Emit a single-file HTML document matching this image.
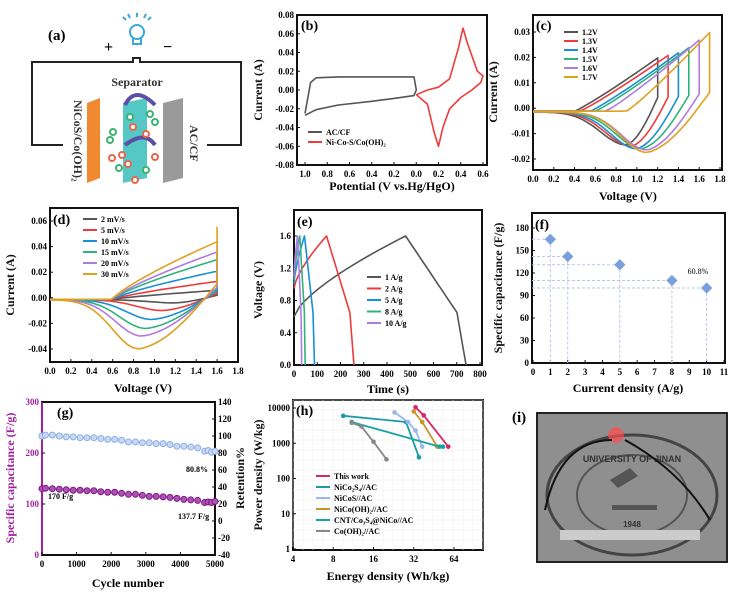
<!DOCTYPE html>
<html><head><meta charset="utf-8"><style>
html,body{margin:0;padding:0;background:#fff;}
svg{display:block;font-family:"Liberation Serif",serif;font-weight:bold;}
</style></head><body>
<svg id="fig" width="739" height="595" viewBox="0 0 739 595" xmlns="http://www.w3.org/2000/svg">
<g id="pa">
<text x="48" y="40" font-size="15">(a)</text>
<text x="104" y="52" font-size="16">+</text>
<text x="163" y="52" font-size="16">−</text>
<g stroke="#3aa9d8" fill="none" stroke-width="2">
<circle cx="137" cy="32" r="7"/><path d="M133 38 v6 h8 v-6"/><path d="M126 20l-3-3M137 17v-4M148 20l3-3M130 18l-2-4M144 18l2-4"/>
</g>
<path d="M63 145 H32 V62 H133 V58 H140 V62 H241 V145 H207" fill="none" stroke="#222" stroke-width="2"/>
<text x="137" y="86" font-size="12" text-anchor="middle" fill="#333">Separator</text>
<polygon points="87,103 100,98 100,178 87,183" fill="#f0892f"/>
<polygon points="123,103 147,98 147,178 123,183" fill="#55c7c4"/>
<polygon points="163,103 183,98 183,178 163,183" fill="#9a9a9a"/>
<path d="M125 105 Q135 85 155 105" stroke="#5b4fa8" stroke-width="4" fill="none"/>
<path d="M155 145 Q145 130 125 145" stroke="#5b4fa8" stroke-width="4" fill="none"/>
<g stroke-width="2" fill="#fff">
<circle cx="113" cy="132" r="3" stroke="#3cb371"/><circle cx="110" cy="140" r="3" stroke="#3cb371"/><circle cx="130" cy="117" r="3" stroke="#3cb371"/><circle cx="150" cy="114" r="3" stroke="#3cb371"/><circle cx="155" cy="122" r="3" stroke="#3cb371"/><circle cx="119" cy="168" r="3" stroke="#3cb371"/><circle cx="146" cy="170" r="3" stroke="#3cb371"/><circle cx="122" cy="155" r="3" stroke="#e8664a"/><circle cx="133" cy="127" r="3" stroke="#e8664a"/><circle cx="146" cy="134" r="3" stroke="#e8664a"/><circle cx="128" cy="164" r="3" stroke="#e8664a"/><circle cx="155" cy="157" r="3" stroke="#e8664a"/><circle cx="135" cy="180" r="3" stroke="#e8664a"/><circle cx="112" cy="158" r="3" stroke="#e8664a"/>
</g>
<text transform="translate(74,100) rotate(90)" font-size="12" fill="#333">NiCoS/Co(OH)₂</text>
<text transform="translate(190,125) rotate(90)" font-size="12" fill="#333">AC/CF</text>
</g>
<g id="pi">
<text x="512" y="422" font-size="15">(i)</text>
<rect x="537" y="413" width="190" height="149" fill="#8f8f8f" stroke="#222" stroke-width="2"/>
<ellipse cx="632" cy="495" rx="85" ry="60" fill="none" stroke="#444" stroke-width="3"/>
<ellipse cx="632" cy="495" rx="55" ry="40" fill="none" stroke="#555" stroke-width="2"/>
<text x="632" y="527" font-size="8" text-anchor="middle" fill="#333" font-family="Liberation Sans">1948</text>
<text x="632" y="462" font-size="9" text-anchor="middle" fill="#333" font-family="Liberation Sans">UNIVERSITY OF JINAN</text>
<path d="M610 480 l20 -12 l8 8 l-20 12z M612 505 h45 v5 h-45z" fill="#555"/>
<circle cx="616" cy="435" r="8" fill="#ff4c4c" opacity="0.7"/>
<path d="M545 510 Q560 440 612 440 M625 440 Q680 470 710 520" stroke="#111" stroke-width="2" fill="none"/>
<rect x="560" y="530" width="140" height="10" fill="#ccc"/>
</g>
<g id="charts"></g>
</svg>
<script>
// ---------- data ----------
const bAcX=[1.0,0.95,0.9,0.7,0.4,0.2,0.02,0.0,0.02,0.2,0.4,0.7,0.9,1.0];
const bAcY=[-0.025,0.008,0.013,0.014,0.014,0.014,0.014,0.0,-0.006,-0.009,-0.012,-0.016,-0.021,-0.027];
const bNiX=[0.0,0.1,0.2,0.3,0.38,0.42,0.46,0.55,0.6,0.58,0.5,0.4,0.3,0.24,0.2,0.16,0.1,0.0];
const bNiY=[-0.005,0.0,0.003,0.012,0.045,0.066,0.05,0.02,0.015,0.008,0.0,-0.008,-0.02,-0.04,-0.06,-0.045,-0.015,-0.005];
const bTickLabels=["1.0","0.8","0.6","0.4","0.2","0.0","0.2","0.4","0.6"];
const cLabels=["1.2V","1.3V","1.4V","1.5V","1.6V","1.7V"];
const cVmax=[1.2,1.3,1.4,1.5,1.6,1.7];
const cImax=[0.021,0.022,0.023,0.025,0.028,0.031];
const cImin=[-0.0145,-0.015,-0.016,-0.016,-0.0165,-0.0175];
const cVmin=[0.9,0.95,1.0,1.05,1.1,1.1];
const cOnset=[0.4,0.45,0.55,0.6,0.7,0.9];
const dLabels=["2 mV/s","5 mV/s","10 mV/s","15 mV/s","20 mV/s","30 mV/s"];
const dImax=[0.01,0.017,0.026,0.034,0.041,0.055];
const dPlat=[0.007,0.014,0.022,0.031,0.037,0.045];
const dImin=[-0.004,-0.01,-0.017,-0.024,-0.03,-0.04];
const dVmin=[1.2,1.08,0.98,0.92,0.88,0.85];
const eLabels=["1 A/g","2 A/g","5 A/g","8 A/g","10 A/g"];
const eStartV=[0.6,0.95,1.0,1.05,1.1];
const eTpeak=[480,140,45,25,15];
const eTend=[740,258,88,48,33];
const fX=[1,2,5,8,10];
const fY=[165,142,131,110,100];
const gCycles=[0,100,300,500,700,900,1100,1300,1500,1700,1900,2100,2300,2500,2700,2900,3100,3300,3500,3700,3900,4100,4300,4500,4700,4800,4900,5000];
const gCap=[130,131,130,129,128,127,127,126,126,124,123,123,121,119,119,117,115,115,114,113,111,109,108,107,103,104,103,105];
const gRet=[100,101,101,100,99,99,98,98,98,97,96,96,95,93,93,92,92,91,91,90,88,88,87,86,82,83,81,82];
const hNames=["This work","NiCo₂S₄//AC","NiCoS//AC","NiCo(OH)₂//AC","CNT/Co₃S₄@NiCo//AC","Co(OH)₂//AC"];
const hE=[[33,38,58],[9.5,28,35],[23,29,33,37],[32,37,48],[11,50,53],[11,13,16,20]];
const hP=[[10500,6200,800],[6000,4000,400],[7500,4000,2300,800],[8000,4000,800],[4000,800,800],[3800,3000,1100,350]];
const colors6=["#555555","#ee3b3b","#1a8fd6","#2fb37a","#b07be0","#e0a020"];
const hColors=["#d6276a","#1c9aa8","#9ab8e8","#c8962a","#18a3a3","#888888"];
// ---------- helpers ----------
const NS="http://www.w3.org/2000/svg";
const root=document.getElementById('charts');
function mk(tag,attrs,parent){const e=document.createElementNS(NS,tag);for(const k in attrs)e.setAttribute(k,attrs[k]);(parent||root).appendChild(e);return e;}
function txt(s,x,y,size,anchor,parent,extra){const t=mk('text',Object.assign({x:x,y:y,'font-size':size,'text-anchor':anchor||'middle'},extra||{}),parent);t.textContent=s;return t;}
function lin(d0,d1,r0,r1){return v=>r0+(v-d0)/(d1-d0)*(r1-r0);}
function poly(xs,ys,X,Y,color,g,w){const p=xs.map((x,i)=>X(x).toFixed(1)+','+Y(ys[i]).toFixed(1)).join(' ');const e=mk('polyline',{points:p,fill:'none',stroke:color,'stroke-width':w||1.6,'stroke-linejoin':'round'},g);return e;}
function frame(g,x0,y0,x1,y1){const r=mk('rect',{x:x0,y:y0,width:x1-x0,height:y1-y0,fill:'none',stroke:'#111','stroke-width':2},g);}
function xticks(g,vals,X,y,labels){vals.forEach((v,i)=>{mk('line',{x1:X(v),x2:X(v),y1:y,y2:y-3,stroke:'#111'},g);const t=txt(labels?labels[i]:v.toFixed(1),X(v),y+12,9,'middle',g);});}
function yticks(g,vals,Y,x,fmt,side){vals.forEach(v=>{mk('line',{x1:x,x2:side?x-3:x+3,y1:Y(v),y2:Y(v),stroke:'#111'},g);const t=txt(fmt(v),side?x+3:x-3,Y(v)+3,9,side?'start':'end',g);});}
function ylabel(g,s,x,y,size,color){const t=txt(s,0,0,size||12,'middle',g,{transform:`translate(${x},${y}) rotate(-90)`,fill:color||'#111'});return t;}
function xlabel(g,s,x,y){const t=txt(s,x,y,12,'middle',g);return t;}
function plabel(g,s,x,y){const t=txt(s,x,y,14,'start',g);}
function legend(g,labels,cols,x,y,dy,size){labels.forEach((l,i)=>{mk('line',{x1:x,x2:x+14,y1:y+i*dy,y2:y+i*dy,stroke:cols[i],'stroke-width':2},g);const t=txt(l,x+18,y+i*dy+3,size||8,'start',g);});}
function group(name){const g=mk('g',{});return g;}
function cvLoop(vmax,imax,imin,vmin,onset,plat){const xs=[],ys=[];const N=30;
 for(let i=0;i<=N;i++){const v=vmax*i/N;let c;if(v<onset)c=-0.0012;else{const f=(v-onset)/(vmax-onset);c=-0.0012+(plat!=null?plat*Math.pow(f,0.8):imax*Math.pow(f,1.1));}
  xs.push(v);ys.push(c);}
 if(plat!=null){xs.push(vmax);ys.push(imax);}
 xs.push(vmax);ys.push(imax*0.2);
 for(let i=0;i<=N;i++){const v=vmax-vmax*i/N;let c;const w=(vmax-vmin);if(v>=vmin){const f=(vmax-v)/w;c=imax*0.2*(1-f)+imin*Math.sin(f*Math.PI/2);}else{const e=Math.exp(-Math.pow((vmin-v)/0.35,2));c=imin*e+(-0.0015)*(1-e);}
  xs.push(v);ys.push(c);}
 return [xs,ys];}
// ---------- panel b ----------
(function(){const g=group('panel-b-cv-comparison');
 const XL=v=>305+(1-v)/0.2*22.25;   // left segment: 1.0 -> 0.0
 const XR=v=>416.25+v/0.2*22.25;    // right segment: 0.0 -> 0.6
 const Y=lin(0.08,-0.08,15,165);
 frame(g,297,15,487,165);plabel(g,'(b)',301,30);
 xticks(g,[0,1,2,3,4,5,6,7,8],i=>305+i*22.25,165,bTickLabels);
 yticks(g,[0.08,0.06,0.04,0.02,0,-0.02,-0.04,-0.06,-0.08],Y,297,v=>v.toFixed(2));
 ylabel(g,'Current (A)',262,90);xlabel(g,'Potential (V vs.Hg/HgO)',392,190);
 const ac=poly(bAcX,bAcY,XL,Y,'#555',g);
 const ni=poly(bNiX,bNiY,XR,Y,'#ee3b3b',g);
 legend(g,['AC/CF','Ni-Co-S/Co(OH)₂'],['#555','#ee3b3b'],308,132,10,8);})();
// ---------- panel c ----------
(function(){const g=group('panel-c-cv-windows');const X=lin(0,1.8,533,720),Y=lin(0.03,-0.02,32,159);
 frame(g,533,15,722,170);plabel(g,'(c)',536,30);
 xticks(g,[0,0.2,0.4,0.6,0.8,1.0,1.2,1.4,1.6,1.8],X,170);
 yticks(g,[0.03,0.02,0.01,0,-0.01,-0.02],Y,533,v=>v.toFixed(2));
 ylabel(g,'Current (A)',497,92);xlabel(g,'Voltage (V)',628,200);
 cVmax.forEach((vm,i)=>{const [xs,ys]=cvLoop(vm,cImax[i],cImin[i],cVmin[i],cOnset[i],null);const p=poly(xs,ys,X,Y,colors6[i],g);});
 legend(g,cLabels,colors6,564,32,9,8);})();
// ---------- panel d ----------
(function(){const g=group('panel-d-cv-scan-rates');const X=lin(0,1.8,50,238),Y=lin(0.06,-0.04,221,349);
 frame(g,50,208,238,362);plabel(g,'(d)',53,224);
 xticks(g,[0,0.2,0.4,0.6,0.8,1.0,1.2,1.4,1.6,1.8],X,362);
 yticks(g,[0.06,0.04,0.02,0,-0.02,-0.04],Y,50,v=>v.toFixed(2));
 ylabel(g,'Current (A)',14,285);xlabel(g,'Voltage (V)',143,392);
 dImax.forEach((im,i)=>{const [xs,ys]=cvLoop(1.6,im,dImin[i],dVmin[i],0.6,dPlat[i]);const p=poly(xs,ys,X,Y,colors6[i],g);});
 legend(g,dLabels,colors6,83,219,11,8);})();
// ---------- panel e ----------
(function(){const g=group('panel-e-gcd');const X=lin(0,800,294,480),Y=lin(1.6,0,236,365);
 frame(g,294,210,482,365);plabel(g,'(e)',297,226);
 xticks(g,[0,100,200,300,400,500,600,700,800],X,365,['0','100','200','300','400','500','600','700','800']);
 yticks(g,[0,0.4,0.8,1.2,1.6],Y,294,v=>v.toFixed(1));
 ylabel(g,'Voltage (V)',262,290);xlabel(g,'Time (s)',388,393);
 const c5=[colors6[0],colors6[1],colors6[2],colors6[3],colors6[4]];
 eTpeak.forEach((tp,i)=>{const xs=[],ys=[];const s=eStartV[i],te=eTend[i];
  for(let k=0;k<=20;k++){const f=k/20;xs.push(tp*f);ys.push(s+(1.6-s)*Math.pow(f,0.7));}
  for(let k=1;k<=20;k++){const f=k/20;xs.push(tp+(te-tp)*f);ys.push(f<0.85?1.6-0.95*f/0.85:0.65*(1-(f-0.85)/0.15));}
  const p=poly(xs,ys,X,Y,c5[i],g);});
 legend(g,eLabels,c5,367,277,11.5,8);})();
// ---------- panel f ----------
(function(){const g=group('panel-f-rate-capability');const X=lin(0,11,533,724),Y=lin(0,180,363,228);
 frame(g,532,213,725,363);plabel(g,'(f)',535,229);
 xticks(g,[0,1,2,3,4,5,6,7,8,9,10,11],X,363,['0','1','2','3','4','5','6','7','8','9','10','11']);
 yticks(g,[0,30,60,90,120,150,180],Y,532,v=>String(v));
 ylabel(g,'Specific capacitance (F/g)',502,288);xlabel(g,'Current density (A/g)',628,392);
 fX.forEach((x,i)=>{mk('line',{x1:X(x),x2:X(x),y1:Y(fY[i]),y2:363,stroke:'#b8c8e8','stroke-dasharray':'3,2'},g);mk('line',{x1:532,x2:X(x),y1:Y(fY[i]),y2:Y(fY[i]),stroke:'#b8c8e8','stroke-dasharray':'3,2'},g);
  const d=mk('rect',{x:X(x)-4,y:Y(fY[i])-4,width:8,height:8,fill:'#7b9fdc',transform:`rotate(45 ${X(x)} ${Y(fY[i])})`},g);});
 const t=txt('60.8%',698,274,8,'middle',g,{'font-weight':'normal'});})();
// ---------- panel g ----------
(function(){const g=group('panel-g-cycling');const X=lin(0,5000,42,215),Y=lin(0,300,555,402),R=lin(-40,140,555,402);
 frame(g,42,402,215,555);mk('line',{x1:42,x2:42,y1:402,y2:555,stroke:'#a020a0','stroke-width':2},g);plabel(g,'(g)',57,417);
 xticks(g,[0,1000,2000,3000,4000,5000],X,555,['0','1000','2000','3000','4000','5000']);
 yticks(g,[0,100,200,300],Y,42,v=>String(v));
 g.querySelectorAll('text[text-anchor="end"]').forEach(t=>t.setAttribute('fill','#a020a0'));
 yticks(g,[-40,-20,0,20,40,60,80,100,120,140],R,215,v=>String(v),true);
 ylabel(g,'Specific capacitance (F/g)',14,478,12,'#a020a0');ylabel(g,'Retention%',244,478);
 xlabel(g,'Cycle number',128,587);
 gCycles.forEach((c,i)=>{const a=mk('circle',{cx:X(c),cy:Y(gCap[i]),r:3,fill:'#b050b0',stroke:'#7a1a8a','stroke-width':1},g);
  const b=mk('circle',{cx:X(c),cy:R(gRet[i]),r:3,fill:'#c8d8f8',stroke:'#90aee0','stroke-width':1},g);});
 [['170 F/g',48,499],['137.7 F/g',178,519],['80.8%',186,472]].forEach(a=>{const t=txt(a[0],a[1],a[2],8,'start',g);});})();
// ---------- panel h ----------
(function(){const g=group('panel-h-ragone');const X=v=>293+Math.log2(v/4)*40.25,Y=v=>549-Math.log10(v)*35.25;
 frame(g,293,400,483,550);
 for(let k=0;k<20;k++){mk('line',{x1:293+k*10,x2:293+k*10,y1:400,y2:550,stroke:'#eee','stroke-width':0.6},g);}
 for(let k=0;k<15;k++){mk('line',{x1:293,x2:483,y1:400+k*10,y2:400+k*10,stroke:'#eee','stroke-width':0.6},g);}
 plabel(g,'(h)',296,415);
 xticks(g,[4,8,16,32,64],X,550,['4','8','16','32','64']);
 yticks(g,[1,10,100,1000,10000],Y,293,v=>String(v));
 ylabel(g,'Power density (W/kg)',262,475);xlabel(g,'Energy density (Wh/kg)',388,580);
 hE.forEach((es,i)=>{const p=poly(es,hP[i],X,Y,hColors[i],g,1.8);
  es.forEach((e,j)=>{const c=mk('circle',{cx:X(e),cy:Y(hP[i][j]),r:2.3,fill:hColors[i]},g);});});
 legend(g,hNames,hColors,316,476,11,8);})();
</script>
</body></html>
